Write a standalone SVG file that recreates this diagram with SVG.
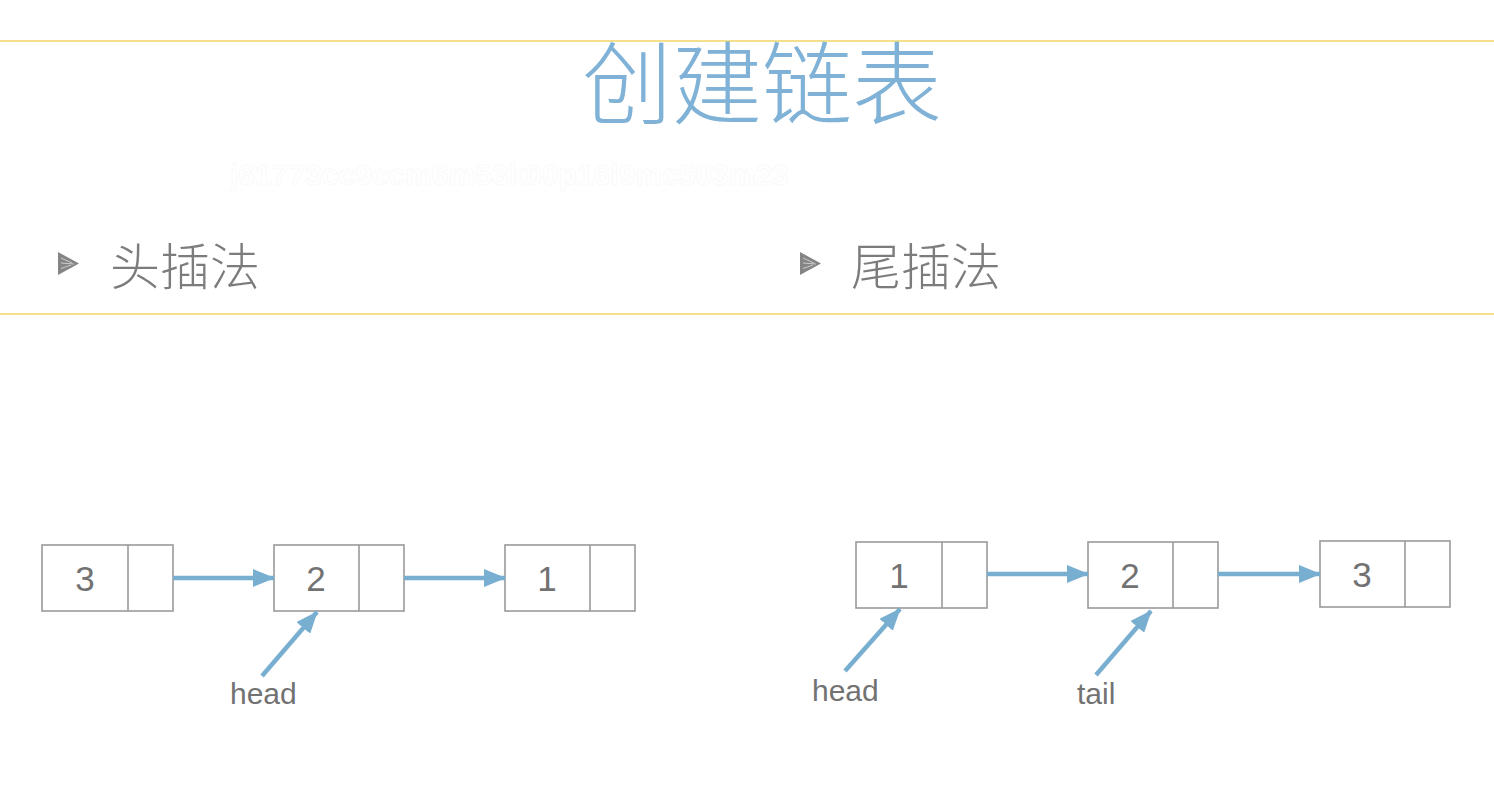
<svg xmlns="http://www.w3.org/2000/svg" width="1494" height="788" viewBox="0 0 1494 788">
<style>
.rule{stroke:#f3df8c;stroke-width:2;}
.title{font-family:"Noto Sans CJK SC","Noto Sans",sans-serif;font-weight:200;font-size:90px;fill:#7fb2d6;}
.sub{font-family:"Noto Sans CJK SC","Noto Sans",sans-serif;font-weight:300;font-size:50px;fill:#7c7c7c;}
.box{fill:#fff;stroke:#9a9a9a;stroke-width:1.6;}
.num{font-family:"Liberation Sans",Arial,sans-serif;font-size:35px;fill:#727272;text-anchor:middle;}
.lbl{font-family:"Liberation Sans",Arial,sans-serif;font-size:30px;fill:#727272;}
.conn{stroke:#78aed0;stroke-width:4.5;fill:none;}
.wm{font-family:"Liberation Sans",Arial,sans-serif;font-size:30px;font-weight:bold;fill:none;stroke:#fafafa;stroke-width:1;}
</style>
<defs>
<marker id="ah" viewBox="0 0 22 18" refX="21" refY="9" markerWidth="22" markerHeight="18" orient="auto" markerUnits="userSpaceOnUse">
<path d="M0,0 L22,9 L0,18 z" fill="#78aed0"/>
</marker>
<g id="bulletShape">
<path d="M0,0 L21,11.5 L0,23 z" fill="#858585"/>
<path d="M3,6 L14,11 M3,11 L16,12 M3,16.5 L13,13" stroke="#ccc" stroke-width="1"/>
</g>
</defs>
<rect width="1494" height="788" fill="#fff"/>
<line class="rule" x1="0" y1="41" x2="1494" y2="41"/>
<line class="rule" x1="0" y1="314" x2="1494" y2="314"/>
<text class="title" x="762" y="117" text-anchor="middle">创建链表</text>
<text class="wm" x="230" y="185">j61773cc9ccm6m53k00p16l9mc503m23</text>
<g id="bullet-left">
<use href="#bulletShape" x="58" y="252"/>
<text class="sub" x="110" y="285">头插法</text>
</g>
<g id="bullet-right">
<use href="#bulletShape" x="800" y="252"/>
<text class="sub" x="851" y="285">尾插法</text>
</g>
<g id="L3"><rect class="box" x="42" y="545" width="131" height="66"/><line class="box" x1="128" y1="545" x2="128" y2="611"/><text class="num" x="85" y="591">3</text></g>
<g id="L2"><rect class="box" x="274" y="545" width="130" height="66"/><line class="box" x1="359" y1="545" x2="359" y2="611"/><text class="num" x="316" y="591">2</text></g>
<g id="L1"><rect class="box" x="505" y="545" width="130" height="66"/><line class="box" x1="590" y1="545" x2="590" y2="611"/><text class="num" x="547" y="591">1</text></g>
<g id="R1"><rect class="box" x="856" y="542" width="131" height="66"/><line class="box" x1="942" y1="542" x2="942" y2="608"/><text class="num" x="899" y="588">1</text></g>
<g id="R2"><rect class="box" x="1088" y="542" width="130" height="66"/><line class="box" x1="1173" y1="542" x2="1173" y2="608"/><text class="num" x="1130" y="588">2</text></g>
<g id="R3"><rect class="box" x="1320" y="541" width="130" height="66"/><line class="box" x1="1405" y1="541" x2="1405" y2="607"/><text class="num" x="1362" y="587">3</text></g>
<g id="labels">
<text class="lbl" x="230" y="704">head</text>
<text class="lbl" x="812" y="701">head</text>
<text class="lbl" x="1077" y="704">tail</text>
</g>
<g id="connectors">
<line class="conn" x1="173" y1="578" x2="274" y2="578" marker-end="url(#ah)"/>
<line class="conn" x1="404" y1="578" x2="505" y2="578" marker-end="url(#ah)"/>
<line class="conn" x1="262" y1="676" x2="317" y2="612" marker-end="url(#ah)"/>
<line class="conn" x1="987" y1="574" x2="1088" y2="574" marker-end="url(#ah)"/>
<line class="conn" x1="1218" y1="574" x2="1320" y2="574" marker-end="url(#ah)"/>
<line class="conn" x1="845" y1="671" x2="900" y2="609" marker-end="url(#ah)"/>
<line class="conn" x1="1096" y1="675" x2="1151" y2="611" marker-end="url(#ah)"/>
</g>
</svg>
